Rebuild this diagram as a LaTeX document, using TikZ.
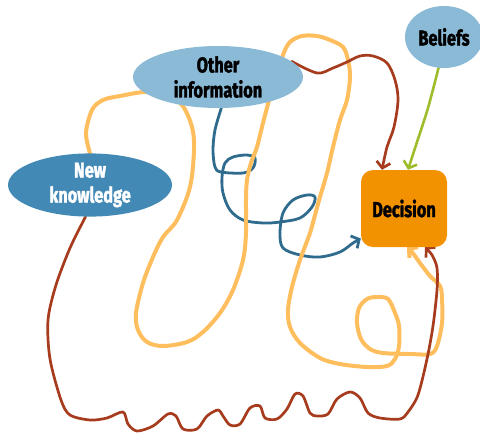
\documentclass[tikz,border=0pt]{standalone}
\usepackage{fontspec}
\setmainfont[FakeStretch=0.76, BoldFeatures={FakeBold=1.6}]{Fira Sans}
\usetikzlibrary{arrows.meta,shapes.geometric,backgrounds}
\definecolor{lightblue}{HTML}{8BBAD6}
\definecolor{darkblue}{HTML}{4389B6}
\definecolor{decorange}{HTML}{F39200}
\definecolor{lineorange}{HTML}{FFBE5E}
\definecolor{linered}{HTML}{A63B1D}
\definecolor{lineblue}{HTML}{2F6B8D}
\definecolor{linegreen}{HTML}{9DBD2A}
\begin{document}
\begin{tikzpicture}[x=1pt,y=-1pt,
  lbl/.style={font=\bfseries\fontsize{21.5}{25}\selectfont, align=center, inner sep=0pt},
  blob/.style={lbl, ellipse, minimum width=170pt, minimum height=62pt},
  decbox/.style={lbl, rounded corners=12pt, fill=decorange, minimum width=86pt, minimum height=77pt},
  tip/.style={-{Straight Barb[length=6pt,width=14pt]}},
  curve/.style={line cap=round, line join=round}
]
\useasboundingbox (0,0) rectangle (480,432);
\node[blob, fill=lightblue] (oi) at (218,77) {Other\\information};
\node[blob, fill=darkblue, text=white, minimum width=164pt] (nk) at (90,185) {New\\knowledge};
\node[blob, fill=lightblue, minimum width=78pt] (bel) at (444,37) {Beliefs};
\node[decbox] (dec) at (404,208.5) {Decision};
\begin{pgfonlayer}{background}
\draw[curve, lineblue, line width=2.8pt, tip] plot[smooth, tension=0.55] coordinates {
 (oi.-84) (215,130) (213,150) (215,167) (221,172) (243,173) (253,168) (255,158) (247,155) (233,157) (225,163) (222,177) (223,193) (230,210) (243,220) (263,223) (280,222) (300,218) (312,207) (315,197) (307,195) (293,200) (283,213) (280,233) (283,248) (300,255) (320,257) (340,252) (353,243) ([yshift=-30pt]dec.west)};
\draw[curve, lineorange, line width=4pt, tip] plot[smooth, tension=0.55] coordinates {
 (nk.north) (86,133) (92,110) (103,100) (120,96) (145,92) (165,95) (182,105) (192,127) (194,150) (190,187) (177,220) (163,237) (153,257) (143,283) (136,313) (138,330) (147,342) (163,346) (187,342) (203,332) (220,313) (233,290) (243,260) (246,233) (246,200) (247,180) (251,163) (257,147) (263,123) (270,97) (277,77) (283,55) (290,42) (302,36) (317,36) (330,40) (343,47) (348,60) (350,77) (347,100) (340,120) (333,147) (327,173) (320,197) (315,215) (310,233) (300,260) (292,287) (288,310) (290,327) (300,343) (320,358) (340,364) (367,367) (387,366) (395,359) (399,346) (399,326) (395,313) (388,299) (377,297) (367,299) (359,308) (357,323) (361,339) (370,349) (383,353) (410,354) (430,354) (437,346) (442,323) (442,299) (440,286) (430,276) (420,263) (412,252) ([xshift=3pt]dec.south)};
\draw[curve, linered, line width=2.7pt, tip] plot[smooth, tension=0.5] coordinates {
 (nk.-98) (70,248) (56,285) (48,320) (50,359) (61,400) (70,415) (90,420) (107,418) (123,412) (128,424) (137,431) (153,426) (168,414) (176,416) (183,429) (197,429) (207,416) (218,410) (223,416) (230,425) (240,424) (250,408) (260,406) (265,418) (277,419) (287,409) (295,394) (303,396) (310,413) (317,416) (328,414) (337,399) (350,392) (360,398) (368,413) (380,418) (400,419) (408,412) (418,395) (427,359) (433,326) (437,290) (437,268) (432,255) ([xshift=21pt]dec.south)};
\draw[curve, linered, line width=2.7pt, tip] plot[smooth, tension=0.55] coordinates {
 (oi.12) (317,73) (333,68) (347,62) (360,56) (373,56) (387,63) (395,80) (398,100) (394,127) (387,147) ([xshift=-22pt]dec.north)};
\draw[curve, linegreen, line width=2.6pt, tip] plot[smooth, tension=0.5] coordinates {
 (bel.-100) (428,108) (417,142) ([xshift=4pt]dec.north)};
\end{pgfonlayer}
\end{tikzpicture}
\end{document}
